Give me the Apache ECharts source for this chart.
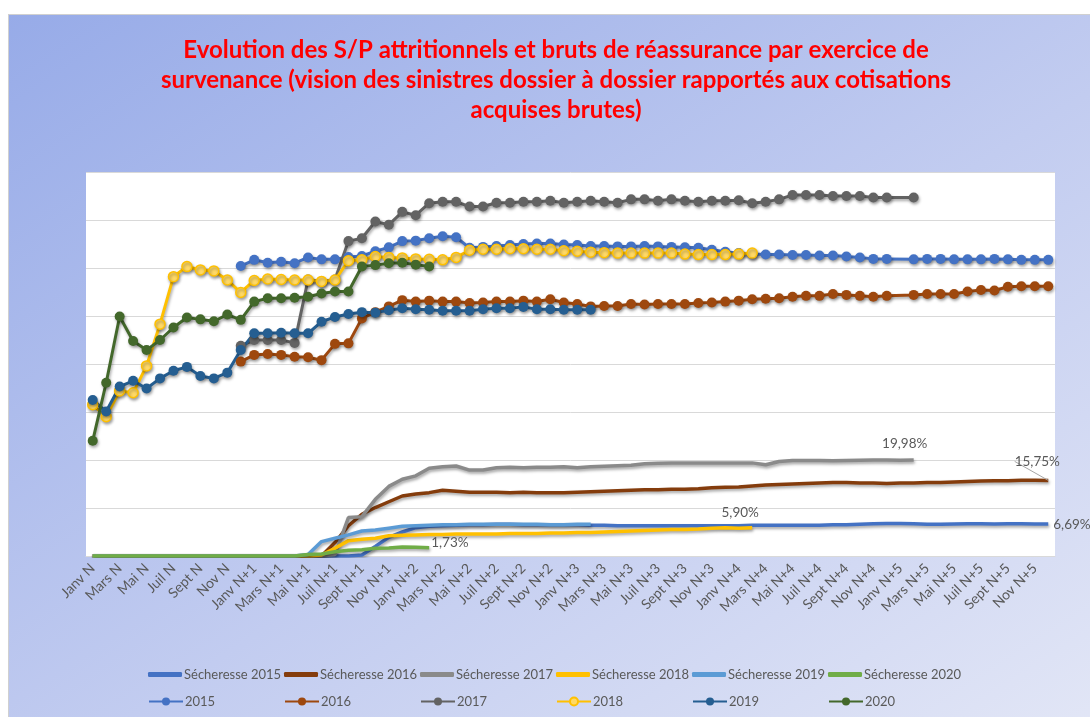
<!DOCTYPE html>
<html lang="fr">
  <head>
    <meta charset="UTF-8" />
    <title>S/P sécheresse</title>
    <script src="https://cdn.jsdelivr.net/npm/echarts@6/dist/echarts.min.js"></script>
    <style>
      html, body { margin: 0; padding: 0; background: #fff; }
      #frame {
        position: absolute; left: 8px; top: 14px; width: 1090px; height: 710px;
        border: 1px solid #d0d0d0;
        background: linear-gradient(to bottom right, #97abe8, #c2ccf0 55%, #e2e6f6);
      }
      #main { position: absolute; left: 0; top: 0; width: 1090px; height: 717px; }
    </style>
  </head>
  <body>
    <div id="frame"></div>
    <div id="main"></div>
    <script>
      // axe des mois
      var months = ["Janv", "Févr", "Mars", "Avr", "Mai", "Juin", "Juil", "Août", "Sept", "Oct", "Nov", "Déc"];
      var years = ["N", "N+1", "N+2", "N+3", "N+4", "N+5"];

      // S/P sécheresse (en %), un point par mois depuis Janv N
      var sech2015 = [0, 0, 0, 0, 0, 0, 0, 0, 0, 0, 0, 0, 0, 0, 0, 0, 0, 0, 0, 0,
        0.2, 2.0, 3.9, 5.0, 5.9, 6.2, 6.3, 6.4, 6.5, 6.5, 6.6, 6.6, 6.5, 6.5, 6.5, 6.5, 6.5, 6.4, 6.4, 6.3,
        6.3, 6.3, 6.3, 6.3, 6.3, 6.3, 6.3, 6.3, 6.3, 6.4, 6.4, 6.4, 6.4, 6.4, 6.4, 6.5, 6.5, 6.6, 6.7, 6.75,
        6.75, 6.7, 6.6, 6.6, 6.65, 6.7, 6.7, 6.65, 6.7, 6.7, 6.65, 6.69];
      var sech2016 = [0, 0, 0, 0, 0, 0, 0, 0, 0, 0, 0, 0, 0, 0, 0, 0, 0, 0,
        2.8, 6.3, 8.7, 10.1, 11.3, 12.5, 12.9, 13.2, 13.7, 13.5, 13.3, 13.3, 13.3, 13.2, 13.3, 13.2, 13.2, 13.2,
        13.3, 13.4, 13.5, 13.6, 13.7, 13.8, 13.8, 13.9, 13.9, 14.0, 14.2, 14.3, 14.4, 14.6, 14.8, 14.9, 15.0, 15.1,
        15.2, 15.3, 15.3, 15.2, 15.2, 15.1, 15.2, 15.2, 15.3, 15.3, 15.4, 15.5, 15.6, 15.7, 15.7, 15.8, 15.8, 15.75];
      var sech2017 = [0, 0, 0, 0, 0, 0, 0, 0, 0, 0, 0, 0, 0, 0, 0, 0, 0, 0, 0.3,
        8.0, 8.2, 11.8, 14.5, 16.0, 16.7, 18.3, 18.6, 18.75, 17.9, 17.9, 18.4, 18.5, 18.4, 18.5, 18.5, 18.6, 18.4,
        18.6, 18.7, 18.8, 18.9, 19.2, 19.3, 19.4, 19.4, 19.4, 19.4, 19.4, 19.4, 19.4, 19.0, 19.7, 19.9, 19.9, 19.9,
        19.85, 19.9, 19.95, 20.0, 20.0, 19.95, 19.98];
      var sech2018 = [0, 0, 0, 0, 0, 0, 0, 0, 0, 0, 0, 0, 0, 0, 0, 0, 0,
        0.2, 1.6, 3.2, 3.5, 3.7, 4.2, 4.3, 4.4, 4.5, 4.5, 4.6, 4.6, 4.6, 4.6, 4.7, 4.7, 4.7, 4.8, 4.8, 4.9, 4.9,
        5.0, 5.1, 5.2, 5.3, 5.4, 5.5, 5.5, 5.6, 5.8, 5.9, 5.8, 5.90];
      var sech2019 = [0, 0, 0, 0, 0, 0, 0, 0, 0, 0, 0, 0, 0, 0, 0, 0,
        0.3, 3.0, 3.7, 4.4, 5.2, 5.4, 5.8, 6.2, 6.3, 6.4, 6.5, 6.5, 6.6, 6.6, 6.6, 6.6, 6.6, 6.6, 6.5, 6.5, 6.6, 6.6];
      var sech2020 = [0, 0, 0, 0, 0, 0, 0, 0, 0, 0, 0, 0, 0, 0, 0, 0,
        0.3, 0.4, 0.9, 1.2, 1.3, 1.6, 1.65, 1.85, 1.8, 1.73];

      // S/P attritionnels + sécheresse par exercice (en %), premier mois = indice de départ
      var start2015 = 11;
      var sp2015 = [60.4, 61.7, 61.1, 61.3, 61.0, 62.2, 61.8, 61.8, 62.3, 62.5, 63.5, 64.3, 65.6, 65.7, 66.2, 66.6, 66.4,
        64.2, 64.4, 64.6, 64.8, 65.0, 65.1, 65.1, 64.9, 64.8, 64.6, 64.6, 64.5, 64.5, 64.6, 64.5, 64.4, 64.3, 64.2,
        63.8, 63.4, 63.1, 62.9, 62.8, 62.8, 62.7, 62.7, 62.6, 62.6, 62.4, 62.2, 61.9, 61.9, null, 61.8, 61.9, 61.9,
        61.8, 61.8, 61.8, 61.9, 61.8, 61.7, 61.7, 61.7];
      var start2016 = 11;
      var sp2016 = [40.5, 41.9, 42.1, 41.9, 41.5, 41.4, 40.8, 44.2, 44.3, 49.5, 50.8, 52.0, 53.3, 53.0, 53.2, 53.0, 53.0,
        52.7, 52.8, 53.0, 53.0, 53.2, 53.0, 53.5, 52.8, 52.5, 52.0, 52.1, 52.1, 52.5, 52.4, 52.5, 52.5, 52.5, 52.7,
        52.8, 53.0, 53.2, 53.5, 53.6, 53.7, 54.0, 54.2, 54.2, 54.6, 54.4, 54.2, 54.0, 54.2, null, 54.4, 54.6, 54.6,
        54.6, 55.1, 55.4, 55.3, 56.1, 56.2, 56.2, 56.2];
      var start2017 = 11;
      var sp2017 = [43.8, 45.0, 45.0, 45.0, 44.4, 57.6, 57.2, 57.6, 65.6, 66.2, 69.7, 69.0, 71.7, 71.0, 73.5, 73.8, 73.8,
        72.8, 72.8, 73.6, 73.6, 73.8, 73.8, 74.0, 73.6, 73.8, 74.0, 73.8, 73.6, 74.3, 74.3, 74.0, 74.3, 74.0, 73.8,
        74.0, 74.0, 74.1, 73.5, 73.8, 74.3, 75.2, 75.2, 75.2, 75.0, 75.0, 75.0, 74.7, 74.7, null, 74.7];
      var start2018 = 0;
      var sp2018 = [31.5, 29.0, 34.4, 34.0, 39.6, 48.3, 58.2, 60.3, 59.6, 59.4, 57.5, 54.9, 57.4, 57.7, 57.6, 57.5, 57.5,
        57.2, 57.5, 61.5, 61.7, 62.4, 62.2, 62.1, 61.9, 61.8, 61.7, 62.2, 63.7, 63.9, 63.9, 64.0, 64.0, 63.9, 63.9,
        63.6, 63.5, 63.3, 63.2, 63.1, 63.1, 63.1, 63.1, 63.1, 62.9, 62.8, 62.8, 62.8, 62.9, 63.1];
      var start2019 = 0;
      var sp2019 = [32.5, 30.1, 35.3, 36.5, 34.9, 37.0, 38.6, 39.4, 37.5, 37.0, 38.2, 42.9, 46.4, 46.4, 46.5, 46.4, 46.4,
        48.8, 49.8, 50.4, 50.8, 50.7, 51.2, 51.6, 51.4, 51.3, 51.1, 51.1, 51.1, 51.4, 51.6, 51.6, 51.9, 51.4, 51.4,
        51.3, 51.3, 51.3];
      var start2020 = 0;
      var sp2020 = [24.0, 36.1, 49.9, 44.8, 42.9, 45.0, 47.6, 49.7, 49.3, 48.9, 50.3, 49.2, 53.0, 53.7, 53.7, 53.8, 54.0,
        54.7, 55.1, 55.1, 60.3, 60.6, 61.0, 61.1, 60.7, 60.3];

      var categories = [];
      years.forEach(function (y) {
        months.forEach(function (m) {
          categories.push(m + " " + y);
        });
      });

      function pad(start, values) {
        var out = [];
        for (var i = 0; i < start; i++) out.push(null);
        return out.concat(values);
      }

      function fmt(p) {
        return p.value.toFixed(2).replace(".", ",") + "%";
      }

      var shadow = { shadowColor: "rgba(0,0,0,0.35)", shadowBlur: 3, shadowOffsetX: 1, shadowOffsetY: 2 };
      var labelFont = { color: "#595959", fontSize: 13.5, fontFamily: "Lato" };

      // courbes sécheresse sans marqueur visible, étiquette sur le dernier point
      function sechSeries(name, data, color, label, layout) {
        var d = data.slice();
        if (label) {
          d[d.length - 1] = { value: d[d.length - 1], label: Object.assign({ show: true }, label) };
        }
        var s = {
          name: name,
          type: "line",
          data: d,
          symbol: "circle",
          symbolSize: 0,
          showAllSymbol: true,
          connectNulls: true,
          lineStyle: Object.assign({ color: color, width: 3.5 }, shadow),
          itemStyle: { color: color },
          label: Object.assign({ show: false, formatter: fmt }, labelFont),
          emphasis: { disabled: true },
        };
        if (layout) {
          s.labelLayout = layout;
          s.labelLine = { show: true, lineStyle: { color: "#a6a6a6", width: 1 } };
        }
        return s;
      }

      function spSeries(name, data, color, fill) {
        return {
          name: name,
          type: "line",
          data: data,
          symbol: "circle",
          symbolSize: 10,
          showAllSymbol: true,
          connectNulls: true,
          lineStyle: Object.assign({ color: color, width: 3 }, shadow),
          itemStyle: Object.assign({ color: fill || color, borderColor: color, borderWidth: fill ? 1.5 : 0 }, shadow),
          emphasis: { disabled: true },
        };
      }

      var series = [
        sechSeries("Sécheresse 2015", sech2015, "#4472C4", { position: "right", offset: [0, 1] }),
        sechSeries("Sécheresse 2016", sech2016, "#843C0C", { position: "top" }, { dx: -11, dy: -7 }),
        sechSeries("Sécheresse 2017", sech2017, "#8A8A8A", { position: "top", offset: [-9, -4] }),
        sechSeries("Sécheresse 2018", sech2018, "#FFC000", { position: "top", offset: [-12, -3] }),
        sechSeries("Sécheresse 2019", sech2019, "#5B9BD5", null),
        sechSeries("Sécheresse 2020", sech2020, "#70AD47", { position: "right", offset: [-3, -5] }),
        spSeries("2015", pad(start2015, sp2015), "#4472C4"),
        spSeries("2016", pad(start2016, sp2016), "#9E480E"),
        spSeries("2017", pad(start2017, sp2017), "#636363"),
        spSeries("2018", pad(start2018, sp2018), "#FFC000", "#FFD966"),
        spSeries("2019", pad(start2019, sp2019), "#255E91"),
        spSeries("2020", pad(start2020, sp2020), "#43682B"),
      ];

      // légende en deux lignes, colonnes fixes
      var legendCols = [148, 284, 420, 556, 692, 828];
      var legends = series.map(function (s, i) {
        var lg = {
          data: [s.name],
          left: legendCols[i % 6],
          top: 695,
          padding: 0,
          itemWidth: 34,
          itemHeight: 10,
          textStyle: { color: "#595959", fontSize: 13, fontFamily: "Lato", padding: [0, 0, 0, -3] },
        };
        if (i < 6) {
          lg.icon = "roundRect";
          lg.itemHeight = 5;
          lg.top = 668;
        }
        return lg;
      });

      var chart = echarts.init(document.getElementById("main"));
      chart.setOption({
        animation: false,
        title: {
          text:
            "Evolution des S/P attritionnels et bruts de réassurance par exercice de\n" +
            "survenance (vision des sinistres dossier à dossier rapportés aux cotisations\n" +
            "acquises brutes)",
          left: 551,
          top: 30,
          textAlign: "center",
          textStyle: { color: "#FF0000", fontSize: 24, fontWeight: "bold", lineHeight: 30, fontFamily: "Lato" },
        },
        legend: legends,
        grid: { left: 86, right: 35, top: 172, bottom: 161, show: true, backgroundColor: "#fff", borderWidth: 0 },
        xAxis: {
          type: "category",
          data: categories,
          axisLine: { lineStyle: { color: "#d9d9d9" } },
          axisTick: { show: false },
          axisLabel: { interval: 1, rotate: 45, color: "#595959", fontSize: 14, fontFamily: "Lato", margin: 10 },
        },
        yAxis: {
          type: "value",
          min: 0,
          max: 80,
          interval: 10,
          axisLabel: { show: false },
          axisLine: { show: false },
          splitLine: { lineStyle: { color: "#d9d9d9" } },
        },
        series: series,
      });
    </script>
  </body>
</html>
